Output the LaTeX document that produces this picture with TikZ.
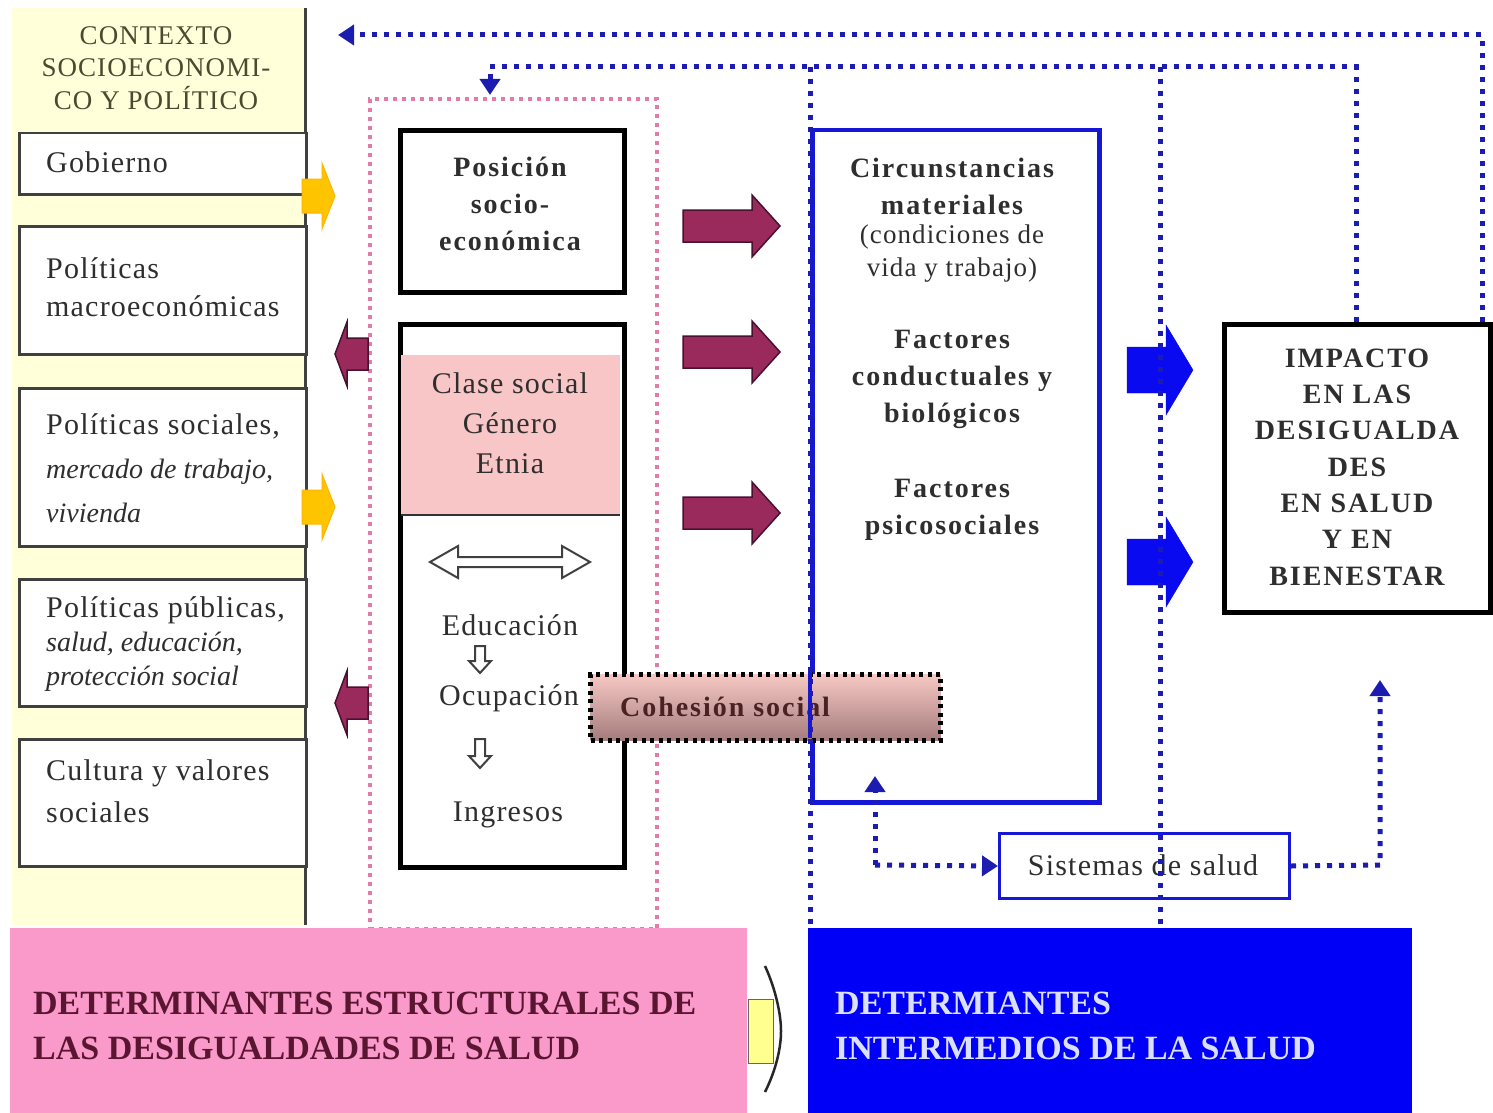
\documentclass[tikz,border=0pt]{standalone}
\usepackage{fontspec}
\setmainfont{Liberation Serif}
\newfontfamily\rmsp[LetterSpace=4]{Liberation Serif}
\newfontfamily\bfsp[LetterSpace=7]{Liberation Serif}
\usetikzlibrary{arrows.meta,calc}
\definecolor{panel}{HTML}{FFFFDA}
\definecolor{titleol}{HTML}{4A4A30}
\definecolor{boxgray}{HTML}{404040}
\definecolor{txtgray}{HTML}{2E2E2E}
\definecolor{pinkdot}{HTML}{E27AAA}
\definecolor{clasefill}{HTML}{F8C6C6}
\definecolor{maroonA}{HTML}{9A2A5C}
\definecolor{maroonD}{HTML}{4A1030}
\definecolor{yellowA}{HTML}{FFC400}
\definecolor{boxblue}{HTML}{1616D6}
\definecolor{dotblue}{HTML}{1C1CB0}
\definecolor{blockblue}{HTML}{0A0AF0}
\definecolor{bottompink}{HTML}{FA9ACB}
\definecolor{bottomtxt}{HTML}{5A1530}
\definecolor{bluefill}{HTML}{0000F6}
\definecolor{bluetxt}{HTML}{DCE0FF}
\definecolor{cohtop}{HTML}{F6C8C4}
\definecolor{cohbot}{HTML}{A47C7C}
\definecolor{cohtxt}{HTML}{4A2222}
\definecolor{arrowyel}{HTML}{FFFF90}
\newcommand\myfs[2]{\fontsize{#1}{#2}\selectfont}
% right-pointing block arrow: x0, yc, xtip, body half, head half, head length, style
\newcommand\blkR[7]{\path[#7] (#1,#2-#4) -- (#3-#6,#2-#4) -- (#3-#6,#2-#5) -- (#3,#2) -- (#3-#6,#2+#5) -- (#3-#6,#2+#4) -- (#1,#2+#4) -- cycle;}
% left-pointing block arrow: x0 (right end), yc, xtip, body half, head half, head length, style
\newcommand\blkL[7]{\path[#7] (#1,#2-#4) -- (#3+#6,#2-#4) -- (#3+#6,#2-#5) -- (#3,#2) -- (#3+#6,#2+#5) -- (#3+#6,#2+#4) -- (#1,#2+#4) -- cycle;}
% down-pointing block arrow: xc, y0, ytip, body half, head half, head length, style
\newcommand\blkD[7]{\path[#7] (#1-#4,#2) -- (#1-#4,#3-#6) -- (#1-#5,#3-#6) -- (#1,#3) -- (#1+#5,#3-#6) -- (#1+#4,#3-#6) -- (#1+#4,#2) -- cycle;}
\tikzset{
  lbox/.style={draw=boxgray, line width=2.5pt, fill=white, anchor=north west, inner sep=0pt, minimum width=287pt},
  blkbox/.style={draw=black, line width=5pt, anchor=north west, inner sep=0pt},
  txt/.style={inner sep=0pt, text=txtgray},
  regtxt/.style={txt, font=\rmsp\myfs{30}{38}},
  boldtxt/.style={txt, font=\bfsp\bfseries\myfs{28}{37}, align=center},
  bdot/.style={draw=dotblue, line width=5pt, dash pattern=on 5pt off 7pt},
  pdot/.style={draw=pinkdot, line width=4pt, dash pattern=on 4pt off 5pt},
  btip/.style={-{Triangle[length=16pt,width=20pt]}},
  maroonarr/.style={fill=maroonA, draw=maroonD, line width=1.5pt},
  yelarr/.style={fill=yellowA, draw=yellowA!80!orange, line width=1pt},
  bluearr/.style={fill=blockblue, draw=blockblue},
  hollow/.style={fill=white, draw=black!75, line width=2pt},
}
\begin{document}
\begin{tikzpicture}[x=1pt,y=-1pt]
\useasboundingbox (0,0) rectangle (1493,1113);
\fill[white] (0,0) rectangle (1493,1113);

% ---------------- left context panel
\node[fill=panel, anchor=north west, inner sep=0pt, minimum width=293pt, minimum height=917pt] (ctx) at (12,8) {};
\draw[boxgray, line width=2.5pt] (ctx.north east) -- (ctx.south east);
\node[inner sep=0pt, text=titleol, align=center, font=\rmsp\myfs{27}{32.5}] (ctitle) at (156,68) {CONTEXTO\\SOCIOECONOMI-\\CO Y POLÍTICO};

\node[lbox, minimum height=61pt] (gob) at (18,132) {};
\node[lbox, minimum height=128pt] (macro) at (18,225) {};
\node[lbox, minimum height=158pt] (soc) at (18,387) {};
\node[lbox, minimum height=127pt] (pub) at (18,578) {};
\node[lbox, minimum height=127pt] (cult) at (18,738) {};

\node[regtxt, anchor=west] (tgob) at (46,162) {Gobierno};
\node[regtxt, anchor=west, align=left, font=\rmsp\myfs{30}{38}] (tmacro) at (46,287) {Políticas\\macroeconómicas};
\node[regtxt, anchor=west, align=left, font=\rmsp\myfs{30}{44}] (tsoc) at (46,468) {Políticas sociales,\\{\rmfamily\itshape\myfs{28}{44}mercado de trabajo,}\\{\rmfamily\itshape\myfs{28}{44}vivienda}};
\node[regtxt, anchor=west, align=left, font=\rmsp\myfs{30}{34}] (tpub) at (46,644) {Políticas públicas,\\{\rmfamily\itshape\myfs{28}{34}salud, educación,}\\{\rmfamily\itshape\myfs{28}{34}protección social}};
\node[regtxt, anchor=west, align=left, font=\rmsp\myfs{30}{42}] (tcult) at (46,791) {Cultura y valores\\sociales};

% ---------------- structural determinants (pink dotted frame)
\node[pdot, anchor=north west, inner sep=0pt, minimum width=287pt, minimum height=830pt] (pdr) at (368,97) {};

\node[blkbox, minimum width=224pt, minimum height=162pt] (pos) at (398,128) {};
\node[boldtxt] (tpos) at (510,204) {Posición\\socio-\\económica};

\node[blkbox, minimum width=224pt, minimum height=543pt] (strat) at (398,322) {};
\node[fill=clasefill, anchor=north west, inner sep=0pt, minimum width=219pt, minimum height=160pt] (clase) at (400.5,355) {};
\draw[black!80, line width=2pt] (clase.south west) -- (clase.south east);
\node[txt, align=center, font=\rmsp\myfs{30}{40}] (tclase) at (510,423) {Clase social\\Género\\Etnia};

\path[hollow] (430,562) -- (458,546) -- (458,557) -- (562,557) -- (562,546) -- (590,562) -- (562,578) -- (562,567) -- (458,567) -- (458,578) -- cycle;
\node[txt, font=\rmsp\myfs{30}{36}] (tedu) at (510,625) {Educación};
\blkD{480}{646}{673}{5}{11}{12}{hollow}
\node[txt, font=\rmsp\myfs{30}{36}] (tocu) at (509,698) {Ocupación};
\blkD{480}{739}{768}{5}{11}{12}{hollow}
\node[txt, font=\rmsp\myfs{30}{36}] (ting) at (508,815) {Ingresos};

% ---------------- intermediate determinants
\node[draw=boxblue, line width=4.5pt, anchor=north west, inner sep=0pt, minimum width=287pt, minimum height=672pt] (inter) at (810,128) {};
\node[boldtxt] (tcirc) at (952,186) {Circunstancias\\materiales};
\node[txt, align=center, font=\rmsp\myfs{27}{33}] (tcond) at (952,254) {(condiciones de\\vida y trabajo)};
\node[boldtxt] (tcond2) at (952,379) {Factores\\conductuales y\\biológicos};
\node[boldtxt] (tpsico) at (952,510) {Factores\\psicosociales};

% cohesion social
\node[draw=black, line width=5pt, dash pattern=on 4pt off 4.5pt, top color=cohtop, bottom color=cohbot, anchor=north west, inner sep=0pt, minimum width=350pt, minimum height=66pt] (coh) at (588,672) {};
\node[inner sep=0pt, text=cohtxt, anchor=west, font=\bfsp\bfseries\myfs{28}{34}] (tcoh) at (620,707) {Cohesión social};
\draw[boxblue, line width=4.5pt] (810,672) -- (810,738);

% ---------------- block arrows
\blkR{302}{196}{335}{17}{33}{13}{yelarr}
\blkR{302}{507}{335}{17}{33}{13}{yelarr}
\blkL{368}{354}{335}{16}{32}{12}{maroonarr}
\blkL{368}{703}{335}{16}{32}{12}{maroonarr}
\blkR{683}{226}{780}{16}{31}{28}{maroonarr}
\blkR{683}{352}{780}{16}{31}{28}{maroonarr}
\blkR{683}{513}{780}{16}{31}{28}{maroonarr}
\blkR{1127}{370}{1193}{23}{45}{27}{bluearr}
\blkR{1127}{562}{1193}{23}{45}{27}{bluearr}

% ---------------- impact box
\node[draw=black, line width=5pt, fill=white, anchor=north west, inner sep=0pt, minimum width=266pt, minimum height=288pt] (imp) at (1222,322) {};
\node[inner sep=0pt, text=txtgray, align=center, font=\bfsp\bfseries\myfs{28}{36.3}] (timp) at (1357,467) {IMPACTO\\EN LAS\\DESIGUALDA\\DES\\EN SALUD\\Y EN\\BIENESTAR};

% ---------------- health systems
\node[draw=boxblue, line width=3pt, fill=white, anchor=north west, inner sep=0pt, minimum width=290pt, minimum height=65pt] (sis) at (998,832) {};
\node[txt, font=\rmsp\myfs{30}{36}] (tsis) at (1143,865) {Sistemas de salud};

% ---------------- bottom banners
\node[fill=bottompink, anchor=north west, inner sep=0pt, minimum width=737pt, minimum height=185pt] (detest) at (10,928) {};
\node[inner sep=0pt, anchor=west, align=left, text=bottomtxt, font=\bfseries\myfs{34}{45}] (tdetest) at (33,1026) {DETERMINANTES ESTRUCTURALES DE\\LAS DESIGUALDADES DE SALUD};
\node[fill=bluefill, anchor=north west, inner sep=0pt, minimum width=604pt, minimum height=185pt] (detint) at (808,928) {};
\node[inner sep=0pt, anchor=west, align=left, text=bluetxt, font=\bfseries\myfs{34}{45}] (tdetint) at (835,1026) {DETERMIANTES\\INTERMEDIOS DE LA SALUD};
\path[fill=arrowyel, draw=black!60, line width=1pt] (748,999) -- (773,999) -- (773,1063) -- (748,1063) -- cycle;
\draw[black!85, line width=2.5pt] (765,966) .. controls (776,990) and (781,1015) .. (781,1031) .. controls (781,1048) and (776,1070) .. (765,1092);

% ---------------- dotted feedback connectors
\coordinate (topend) at (338,35);
\coordinate (midline) at (490,67);
\coordinate (v1top) at (810,67);
\coordinate (v2top) at (1160,67);
\draw[bdot, btip] ([xshift=-11pt]imp.north east) |- (topend);
\draw[bdot, btip] ([xshift=-137pt]imp.north east) |- (midline) -- ($(pdr.north west)+(122,-2)$);
\draw[bdot] (v1top) -- (v1top |- detint.north);
\draw[bdot] (v2top) -- (v2top |- detint.north);
\coordinate (sisL) at (875,865);
\coordinate (sisR) at (1380,865);
\draw[bdot, btip] (sisL) -- (sis.west);
\draw[bdot, btip] (sisL) -- (875,776);
\draw[bdot, btip] (sis.east) -- (sisR) -- (1380,680);
\end{tikzpicture}
\end{document}
